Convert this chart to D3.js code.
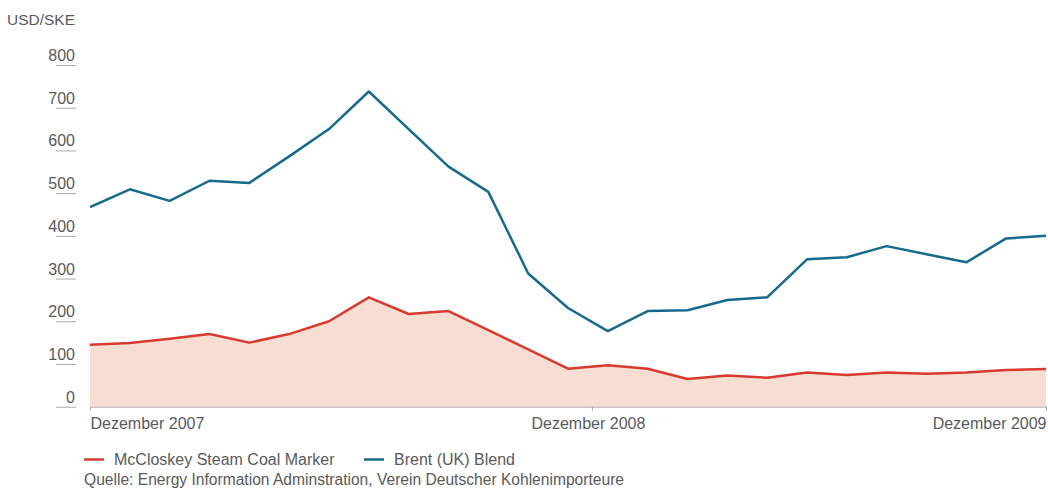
<!DOCTYPE html>
<html>
<head>
<meta charset="utf-8">
<script src="https://cdn.jsdelivr.net/npm/d3@7"></script>
<style>
  body { margin: 0; background: #fff; }
  svg text { font-family: "Liberation Sans", Arial, sans-serif; fill: #5a5a5a; }
</style>
</head>
<body>
<div class="graph"></div>
<script>
// monthly values, Dezember 2007 .. Dezember 2009
var months = d3.range(25);
var coal = [145, 149, 159, 170, 150, 170, 200, 256, 217, 224, 179, 134, 89,
            97, 89, 65, 73, 68, 80, 74, 80, 77, 80, 86, 88];
var brent = [467, 509, 482, 529, 524, 586, 650, 738, 650, 562, 503, 312, 231,
             177, 224, 226, 250, 256, 345, 350, 376, 357, 338, 394, 400];
var yTicks = [0, 100, 200, 300, 400, 500, 600, 700, 800];
var xTicks = [0, 12.6, 24];
var xLabels = ["Dezember 2007", "Dezember 2008", "Dezember 2009"];
var seriesNames = ["McCloskey Steam Coal Marker", "Brent (UK) Blend"];

var red = "#d83a2e", blue = "#166a8b", fill = "#f8ddd2";

var width = 1048, height = 488;
var x = d3.scaleLinear().domain([0, 24]).range([90, 1046]);
var y = d3.scaleLinear().domain([0, 800]).range([406.7, 65]);

var svg = d3.select(".graph").append("svg")
    .attr("width", width)
    .attr("height", height);

// area under coal
svg.append("path")
    .datum(months)
    .attr("fill", fill)
    .attr("d", d3.area()
        .x(function (d) { return x(d); })
        .y0(y(0))
        .y1(function (d) { return y(coal[d]); }));

// x axis
var xAxis = svg.append("g")
    .attr("transform", "translate(0," + y(0) + ")")
    .call(d3.axisBottom(x).tickValues(xTicks).tickSize(4).tickSizeOuter(0)
        .tickFormat(function (d, i) { return xLabels[i]; }));
xAxis.select(".domain").attr("stroke", "#aaa");
xAxis.selectAll(".tick line").attr("stroke", "#aaa");
xAxis.selectAll(".tick text")
    .attr("y", 11)
    .attr("dx", function (d, i) { return i == 1 ? -4 : 0; })
    .attr("font-size", "16px")
    .attr("text-anchor", function (d, i) { return ["start", "middle", "end"][i]; });

// y axis: underlined labels
var yAxis = svg.append("g")
    .attr("transform", "translate(76,0)")
    .call(d3.axisLeft(y).tickValues(yTicks).tickSize(0));
yAxis.select(".domain").remove();
yAxis.selectAll(".tick line")
    .attr("x1", -20).attr("x2", 0)
    .attr("stroke", "#aaa");
yAxis.selectAll(".tick text")
    .attr("x", -1)
    .attr("dy", "-0.28em")
    .attr("font-size", "16px")
    .attr("text-anchor", "end");

svg.append("text")
    .attr("x", 75).attr("y", 25)
    .attr("text-anchor", "end")
    .attr("font-size", "15.5px")
    .text("USD/SKE");

// lines
var line = function (vals) {
    return d3.line()
        .x(function (d) { return x(d); })
        .y(function (d) { return y(vals[d]); })(months);
};
svg.append("path")
    .attr("d", line(coal))
    .attr("fill", "none")
    .attr("stroke", red)
    .attr("stroke-width", 2.5)
    .attr("stroke-linejoin", "round");
svg.append("path")
    .attr("d", line(brent))
    .attr("fill", "none")
    .attr("stroke", blue)
    .attr("stroke-width", 2.5)
    .attr("stroke-linejoin", "round");

// legend
var legend = svg.append("g");
var lx = [84, 364];
[red, blue].forEach(function (c, i) {
    legend.append("line")
        .attr("x1", lx[i]).attr("x2", lx[i] + 20)
        .attr("y1", 459.5).attr("y2", 459.5)
        .attr("stroke", c).attr("stroke-width", 2.5);
    legend.append("text")
        .attr("x", lx[i] + 30).attr("y", 465)
        .attr("font-size", "16px")
        .text(seriesNames[i]);
});
svg.append("text")
    .attr("x", 84).attr("y", 485)
    .attr("font-size", "15.6px")
    .text("Quelle: Energy Information Adminstration, Verein Deutscher Kohlenimporteure");
</script>
</body>
</html>
